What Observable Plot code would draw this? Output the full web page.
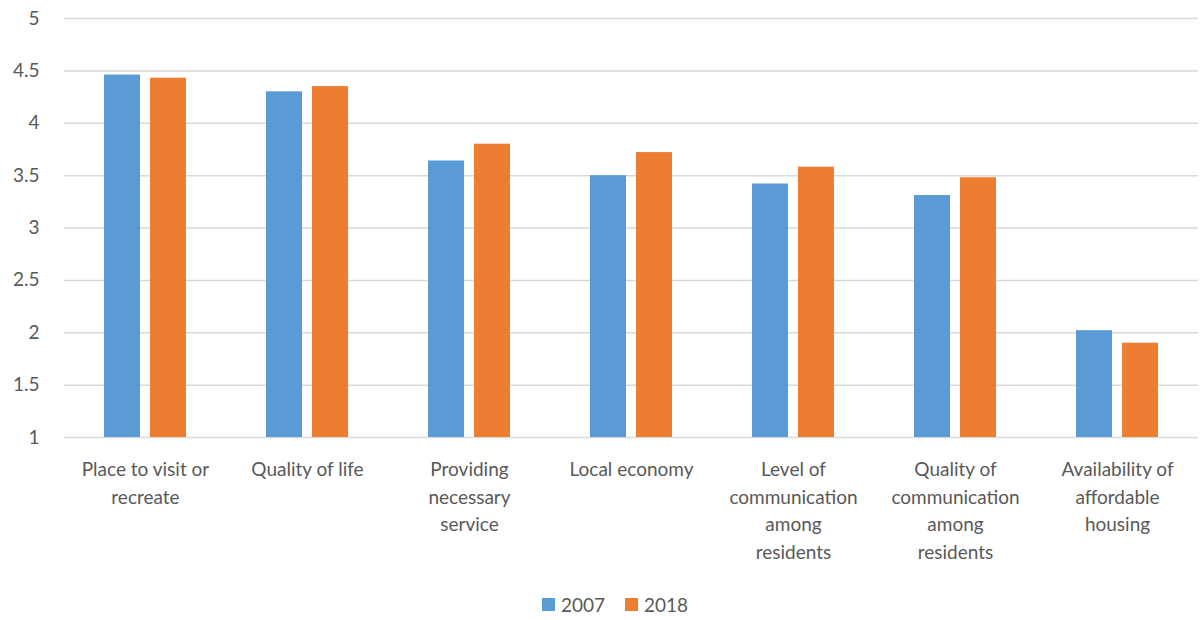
<!DOCTYPE html>
<html>
<head>
<meta charset="utf-8">
<script src="https://cdn.jsdelivr.net/npm/d3@7"></script>
<script src="https://cdn.jsdelivr.net/npm/@observablehq/plot@0.6"></script>
<style>
  html, body { margin: 0; padding: 0; background: #fff; }
  #chart { width: 1202px; font-family: Lato, "Open Sans", sans-serif; }
  #legend { display: flex; justify-content: center; gap: 20px; margin-top: 8px; font-size: 19px; color: #595959; padding-left: 28px; }
  .sw { display: inline-flex; align-items: center; gap: 6px; }
  .sw i { display: inline-block; width: 13px; height: 13px; }
</style>
</head>
<body>
<div id="chart"></div>
<script>
const categories = [
  "Place to visit or recreate",
  "Quality of life",
  "Providing necessary service",
  "Local economy",
  "Level of communication among residents",
  "Quality of communication among residents",
  "Availability of affordable housing"
];
const tickLabels = [
  "Place to visit or\nrecreate",
  "Quality of life",
  "Providing\nnecessary\nservice",
  "Local economy",
  "Level of\ncommunication\namong\nresidents",
  "Quality of\ncommunication\namong\nresidents",
  "Availability of\naffordable\nhousing"
];
const years = ["2007", "2018"];
const values2007 = [4.46, 4.30, 3.64, 3.50, 3.42, 3.31, 2.02];
const values2018 = [4.43, 4.35, 3.80, 3.72, 3.58, 3.48, 1.90];
const yTicks = [1, 1.5, 2, 2.5, 3, 3.5, 4, 4.5, 5];
const colors = ["#5B9BD5", "#ED7D31"];

const rows = [];
categories.forEach((c, i) => {
  rows.push({category: c, year: years[0], value: values2007[i]});
  rows.push({category: c, year: years[1], value: values2018[i]});
});
const labelOf = new Map(categories.map((c, i) => [c, tickLabels[i]]));

const W = 1202, mL = 64, mR = 4;
const step = (W - mL - mR) / categories.length;
const pInner = 0.494;
const bw = step * (1 - pInner);
const barW = 36;

const chart = Plot.plot({
  width: W,
  height: 585,
  marginLeft: mL,
  marginRight: mR,
  marginTop: 18,
  marginBottom: 148,
  style: {fontFamily: "Lato, 'Open Sans', sans-serif", color: "#595959", background: "#fff"},
  x: {domain: categories, paddingInner: pInner, paddingOuter: pInner / 2},
  y: {domain: [1, 5]},
  color: {domain: years, range: colors},
  marks: [
    Plot.ruleY(yTicks, {stroke: "#d9d9d9", strokeWidth: 1.5}),
    Plot.barY(rows.filter(d => d.year === years[0]), {x: "category", y1: 1, y2: "value", fill: "year", insetRight: bw - barW}),
    Plot.barY(rows.filter(d => d.year === years[1]), {x: "category", y1: 1, y2: "value", fill: "year", insetLeft: bw - barW}),
    Plot.axisY({ticks: yTicks, tickSize: 0, tickPadding: 25, fontSize: 19, label: null, tickFormat: d => String(d), fill: "#595959"}),
    Plot.axisX({tickSize: 0, tickPadding: 19, fontSize: 19, lineHeight: 1.45, label: null, tickFormat: d => labelOf.get(d), fill: "#595959"})
  ]
});
document.getElementById("chart").appendChild(chart);

const legend = document.createElement("div");
legend.id = "legend";
years.forEach((y, i) => {
  const s = document.createElement("span");
  s.className = "sw";
  s.innerHTML = `<i style="background:${colors[i]}"></i>${y}`;
  legend.appendChild(s);
});
document.getElementById("chart").appendChild(legend);
</script>
</body>
</html>
